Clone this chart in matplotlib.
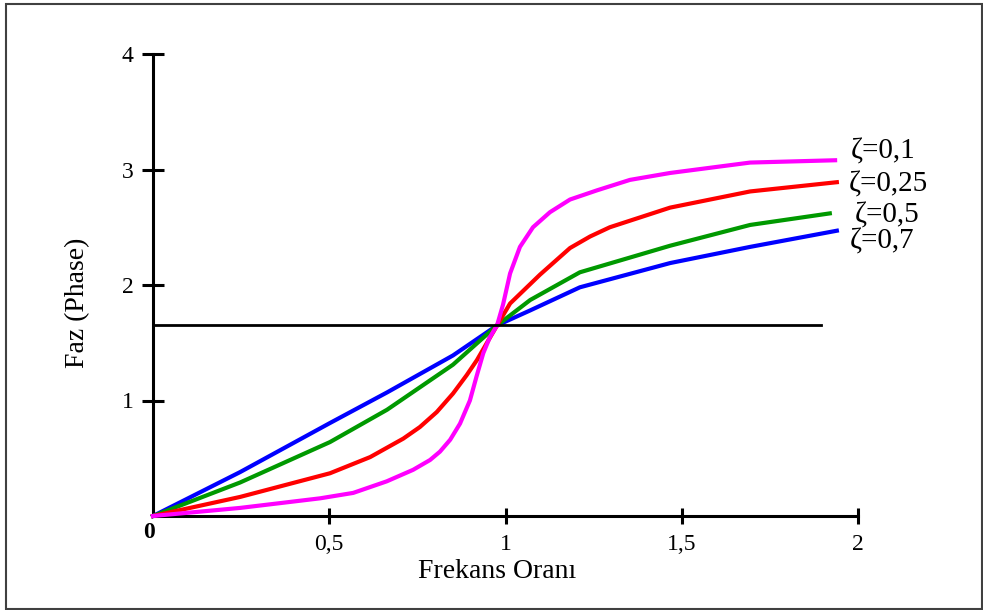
import matplotlib

matplotlib.use("Agg")
import matplotlib.pyplot as plt
from matplotlib.patches import Rectangle

plt.rcParams["font.family"] = ["Liberation Serif", "DejaVu Serif"]

# phase curves for each damping ratio, read as (frequency ratio, phase) pairs
x_07 = [0, 0.247, 0.502, 0.664, 0.851, 0.976, 1.07, 1.211, 1.467, 1.694, 1.94]
y_07 = [0, 0.38, 0.805, 1.07, 1.39, 1.65, 1.78, 1.98, 2.19, 2.33, 2.47]

x_05 = [0, 0.247, 0.502, 0.664, 0.851, 0.976, 1.07, 1.211, 1.467, 1.694, 1.92]
y_05 = [0, 0.29, 0.64, 0.92, 1.31, 1.65, 1.87, 2.11, 2.34, 2.52, 2.62]

x_025 = [0, 0.247, 0.502, 0.616, 0.71, 0.757, 0.805, 0.851, 0.89, 0.919, 0.976,
         1.013, 1.098, 1.183, 1.24, 1.296, 1.467, 1.694, 1.94]
y_025 = [0, 0.165, 0.37, 0.51, 0.67, 0.77, 0.90, 1.06, 1.22, 1.35, 1.65,
         1.84, 2.09, 2.32, 2.42, 2.50, 2.67, 2.81, 2.89]

x_01 = [0, 0.247, 0.474, 0.568, 0.663, 0.738, 0.786, 0.814, 0.843, 0.871, 0.899,
        0.918, 0.937, 0.956, 0.976, 0.993, 1.013, 1.041, 1.078, 1.126, 1.183,
        1.26, 1.353, 1.467, 1.694, 1.935]
y_01 = [0, 0.07, 0.153, 0.20, 0.30, 0.40, 0.485, 0.557, 0.66, 0.80, 1.00,
        1.21, 1.41, 1.55, 1.65, 1.83, 2.10, 2.33, 2.50, 2.63, 2.74,
        2.82, 2.91, 2.97, 3.06, 3.08]

ref_phase = 1.65
ref_end = 1.894

zeta_labels = ["ζ=0,1", "ζ=0,25", "ζ=0,5", "ζ=0,7"]
x_ticks = [0.5, 1, 1.5, 2]
x_ticklabels = ["0,5", "1", "1,5", "2"]
y_ticks = [1, 2, 3, 4]

W, H = 983, 610
fig = plt.figure(figsize=(W / 100, H / 100), dpi=100)
ax = fig.add_axes([153 / W, (H - 516) / H, (858 - 153) / W, (516 - 54) / H])

ax.plot(x_07, y_07, color="#0000ff", lw=3, clip_on=False, zorder=3)
ax.plot(x_05, y_05, color="#009900", lw=3, clip_on=False, zorder=3)
ax.plot(x_025, y_025, color="#ff0000", lw=3, clip_on=False, zorder=3)
ax.plot(x_01, y_01, color="#ff00ff", lw=3, clip_on=False, zorder=3)
ax.plot([0, ref_end], [ref_phase, ref_phase], color="black", lw=2, zorder=4)

ax.set_xlim(0, 2)
ax.set_ylim(0, 4)
for side in ("top", "right"):
    ax.spines[side].set_visible(False)
for side in ("left", "bottom"):
    ax.spines[side].set_linewidth(2.2)
ax.set_xticks(x_ticks)
ax.set_xticklabels(x_ticklabels)
ax.set_yticks(y_ticks)
ax.tick_params(axis="x", direction="inout", length=12, width=2.2, pad=7, labelsize=17)
ax.tick_params(axis="y", direction="inout", length=16, width=2.2, pad=6, labelsize=17)
ax.text(-0.01, -0.05, "0", ha="center", va="top", fontsize=17, fontweight="bold",
        transform=ax.transData, clip_on=False)

# curve labels at the right end
label_pos = [(1.98, 3.16), (1.975, 2.87), (1.99, 2.6), (1.978, 2.38)]
for (lx, ly), txt in zip(label_pos, zeta_labels):
    ax.text(lx, ly, txt, ha="left", va="center", fontsize=21, clip_on=False)

fig.text(497 / W, 1 - 572 / H, "Frekans Oranı", ha="center", va="center", fontsize=20)
fig.text(78 / W, 1 - 303 / H, "Faz (Phase)", ha="center", va="center",
         rotation=90, fontsize=20)

fig.patches.append(Rectangle((6 / W, 1 / H), 976 / W, 605 / H, transform=fig.transFigure,
                             fill=False, edgecolor="#404040", lw=1.5))

fig.savefig("out.png", dpi=100)
